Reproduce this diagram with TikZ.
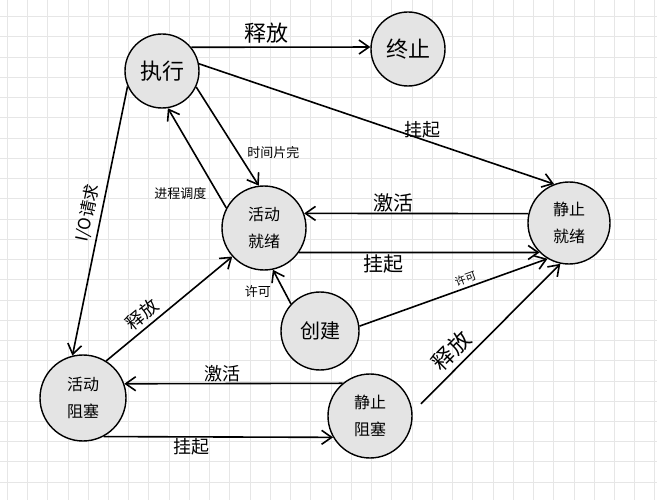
\documentclass[tikz,border=0pt]{standalone}
\usepackage{fontspec}
\newfontfamily\cjk{Noto Sans CJK SC}
\usetikzlibrary{arrows.meta}
\definecolor{procFill}{HTML}{E4E4E4}
\definecolor{gridLine}{HTML}{E6E6E6}

\begin{document}
\begin{tikzpicture}[x=1pt, y=-1pt, >={Straight Barb[length=10pt,width=14pt]}, font=\cjk]
  \tikzstyle{proc} = [draw, fill=procFill, circle, inner sep=0pt, line width=1.4pt, align=center]
  \tikzstyle{bigText} = [font={\cjk\fontsize{22}{24}\selectfont}]
  \tikzstyle{twoLine} = [font={\cjk\fontsize{16}{27}\selectfont}]
  \tikzstyle{procEdge} = [->, black, line width=1.6pt]
  \tikzstyle{every edge} = [draw, procEdge]
  \tikzstyle{edgeLabel} = [inner sep=1pt, font={\cjk\fontsize{18}{18}\selectfont}]
  \tikzstyle{smallLabel} = [inner sep=1pt, font={\cjk\fontsize{13}{13}\selectfont}]

  % grid paper
  \useasboundingbox (0,0) rectangle (657,500);
  \fill[white] (0,0) rectangle (657,500);
  \foreach \i in {0,...,32}
    \draw[gridLine, line width=1pt] (7.3+20.24*\i,0) -- (7.3+20.24*\i,500);
  \foreach \j in {0,...,23}
    \draw[gridLine, line width=1pt] (0,16.7+20.24*\j) -- (657,16.7+20.24*\j);

  \node[proc, bigText, minimum size=74pt](ex) at (162,71) {执行};
  \node[proc, bigText, minimum size=74pt](term) at (408,49) {终止};
  \node[proc, twoLine, minimum size=84pt](ar) at (264,228) {活动\\就绪};
  \node[proc, twoLine, minimum size=82pt](sr) at (569,223) {静止\\就绪};
  \node[proc, bigText, minimum size=78pt, font={\cjk\fontsize{20}{20}\selectfont}](cr) at (320,331) {创建};
  \node[proc, twoLine, minimum size=86pt](ab) at (83,398) {活动\\阻塞};
  \node[proc, twoLine, minimum size=84pt](sb) at (370,416) {静止\\阻塞};

  \path[procEdge]
  (ex.39) edge node[edgeLabel, bigText, above=2pt, pos=0.42] {释放} (term.177)
  (ex.11) edge node[edgeLabel, above, pos=0.63] {挂起} (sr.111)
  (ex.-25) edge node[smallLabel, right=8pt, pos=0.66] {时间片完} (ar.97)
  (ex.204) edge node[smallLabel, font={\cjk\fontsize{17}{17}\selectfont}, sloped, above=3pt, pos=0.48] {I/O请求} (ab.104)
  (ar.152) edge node[smallLabel, left=10pt, pos=0.14] {进程调度} (ex.-81)
  (sr.167) edge node[edgeLabel, font={\cjk\fontsize{20}{20}\selectfont}, above, pos=0.6] {激活} (ar.20)
  (ar.-35) edge node[edgeLabel, font={\cjk\fontsize{20}{20}\selectfont}, below, pos=0.35] {挂起} (sr.-135)
  (cr.137) edge node[smallLabel, left=12pt, pos=0.35] {许可} (ar.-78)
  (cr.7) edge node[smallLabel, font={\cjk\fontsize{11}{11}\selectfont}, sloped, above=2pt, pos=0.58] {许可} (sr.-121)
  (ab.58) edge node[edgeLabel, sloped, above=3pt, pos=0.35] {释放} (ar.222)
  (sb.130) edge node[edgeLabel, above, pos=0.55] {激活} (ab.19)
  (ab.-62) edge node[edgeLabel, below, pos=0.385] {挂起} (sb.-150)
  (sb.5) edge[shorten <=12pt] node[edgeLabel, bigText, sloped, above=4pt, pos=0.34] {释放} (sr.-102);
\end{tikzpicture}
\end{document}
